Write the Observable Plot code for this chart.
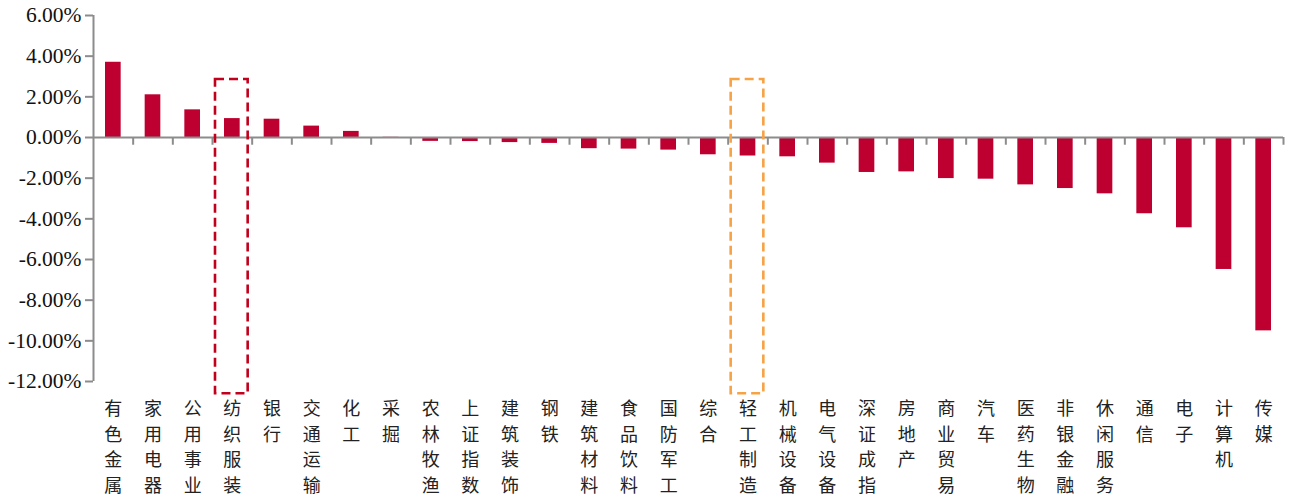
<!DOCTYPE html>
<html>
<head>
<meta charset="utf-8">
<script src="https://cdn.jsdelivr.net/npm/d3@7"></script>
<script src="https://cdn.jsdelivr.net/npm/@observablehq/plot@0.6"></script>
<style>
  html, body { margin: 0; padding: 0; background: #fff; }
  #chart svg { display: block; }
</style>
</head>
<body>
<div id="chart"></div>
<script>
const categories = ["有色金属","家用电器","公用事业","纺织服装","银行","交通运输","化工","采掘","农林牧渔","上证指数","建筑装饰","钢铁","建筑材料","食品饮料","国防军工","综合","轻工制造","机械设备","电气设备","深证成指","房地产","商业贸易","汽车","医药生物","非银金融","休闲服务","通信","电子","计算机","传媒"];
const values = [3.70, 2.10, 1.36, 0.93, 0.90, 0.56, 0.30, 0.01, -0.19, -0.20, -0.25, -0.29, -0.55, -0.57, -0.62, -0.85, -0.91, -0.95, -1.26, -1.72, -1.69, -2.02, -2.05, -2.33, -2.51, -2.77, -3.75, -4.44, -6.49, -9.51];
const yTicks = [-12, -10, -8, -6, -4, -2, 0, 2, 4, 6];
const highlights = [
  {name: "纺织服装", color: "#c0001c"},
  {name: "轻工制造", color: "#f7a345"}
];

const data = categories.map((name, i) => ({name, value: values[i]}));

const W = 1290, H = 499;
const mL = 93, mR = 7, mT = 15, mB = 118;
const step = (W - mL - mR) / categories.length;
const axisColor = "#8c8c8c";

const chart = Plot.plot({
  width: W,
  height: H,
  marginLeft: mL,
  marginRight: mR,
  marginTop: mT,
  marginBottom: mB,
  style: {background: "#fff", overflow: "visible"},
  x: {type: "band", domain: categories, padding: 0, round: false, axis: null},
  y: {domain: [-12, 6], axis: null},
  marks: [
    Plot.barY(data, {x: "name", y: "value", fill: "#be0030", insetLeft: 12, insetRight: 12}),
    // y axis line
    Plot.ruleX([categories[0]], {x: d => d, dx: -step / 2, y1: -12, y2: 6, stroke: axisColor, strokeWidth: 2}),
    // y axis ticks and labels
    Plot.axisY({
      ticks: yTicks,
      tickFormat: d => d.toFixed(2) + "%",
      tickSize: 8,
      tickPadding: 4,
      stroke: axisColor,
      strokeWidth: 2,
      fill: "#111",
      fontSize: 21.5,
      fontFamily: "Liberation Serif",
      label: null
    }),
    // zero line
    Plot.ruleY([0], {stroke: axisColor, strokeWidth: 2}),
    // category boundary ticks
    Plot.ruleX(categories, {x: d => d, dx: step / 2, y1: 0, y2: -0.38, stroke: axisColor, strokeWidth: 2}),
    // dashed highlight boxes
    Plot.barY(highlights, {
      x: "name", y1: 2.85, y2: -12.6,
      fill: "none", stroke: "color", strokeWidth: 2.6,
      strokeDasharray: "9,5", insetLeft: 3, insetRight: 4
    }),
    // category labels (vertical stacked characters)
    Plot.text(data, {
      x: "name",
      text: d => d.name.split("").join("\n"),
      frameAnchor: "bottom",
      lineAnchor: "top",
      lineHeight: 1.43,
      dy: 15,
      fontSize: 18,
      fontFamily: "Noto Sans CJK SC",
      fill: "#222"
    })
  ]
});

document.getElementById("chart").appendChild(chart);
</script>
</body>
</html>
